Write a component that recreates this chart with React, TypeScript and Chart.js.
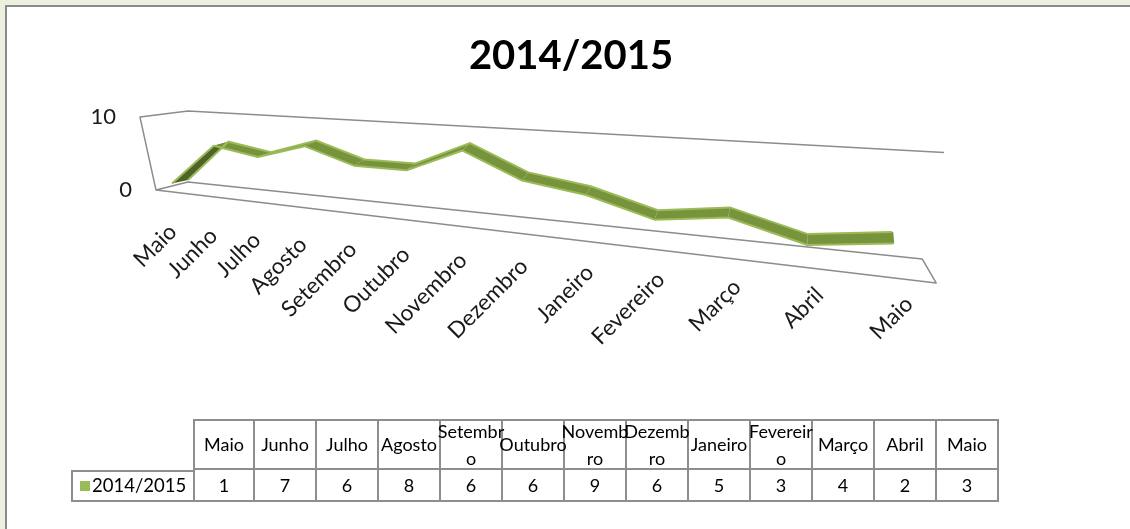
import React, { useEffect, useRef } from "react";
import { Chart, registerables } from "chart.js";

Chart.register(...registerables);

// ---- data ----
const categories = [
  "Maio", "Junho", "Julho", "Agosto", "Setembro", "Outubro", "Novembro",
  "Dezembro", "Janeiro", "Fevereiro", "Março", "Abril", "Maio",
];
const seriesLabel = "2014/2015";
const seriesValues = [1, 7, 6, 8, 6, 6, 9, 6, 5, 3, 4, 2, 3];
const yTickValues = [0, 10];
const chartTitle = "2014/2015";

// ---- styles ----
const GREEN = "#9bbb59";
const FACE = "#77933c";
const DARK = "#4f6228";
const FRAME = "#8c8c8c";
const TEXT = "#1a1a1a";

// perspective projection of normalized plot coordinates (u along categories, w along value)
function project(u: number, w: number) {
  const den = 1 - 0.332 * u;
  return { x: (408 * u + 188) / den, y: (-11.2 * u - 68.9 * w + 186.9) / den };
}
function depth(u: number) {
  return { x: -16 + 17 * u, y: 3.5 + 8 * u };
}

const perspectivePlugin = {
  id: "perspective3d",
  afterDatasetsUpdate(chart: any) {
    const a = chart.chartArea;
    const meta = chart.getDatasetMeta(0);
    const us: number[] = [];
    meta.data.forEach((pt: any) => {
      const u = (pt.x - a.left) / (a.right - a.left);
      const w = (a.bottom - pt.y) / (a.bottom - a.top);
      const p = project(u, w);
      pt.x = p.x;
      pt.y = p.y;
      us.push(u);
    });
    chart.$us = us;
  },
  beforeDatasetsDraw(chart: any) {
    const ctx = chart.ctx as CanvasRenderingContext2D;
    const yScale = chart.scales.y;
    const wTop = (yScale.max * 1.1 - yScale.min) / (yScale.max - yScale.min);
    const wBot = 0.07;
    const bTL = project(0, wTop);
    const bTR = project(1.048, wTop);
    const bBL = project(0, wBot);
    const bBR = project(1.028, wBot);
    const fTL = { x: bTL.x - 48, y: bTL.y + 6 };
    const fBL = { x: bBL.x - 32, y: bBL.y + 8 };
    const fBR = { x: bBR.x + 14, y: bBR.y + 24 };
    ctx.save();
    ctx.strokeStyle = FRAME;
    ctx.lineWidth = 1.5;
    ctx.lineJoin = "round";
    ctx.beginPath();
    ctx.moveTo(bTR.x, bTR.y);
    ctx.lineTo(bTL.x, bTL.y);
    ctx.lineTo(fTL.x, fTL.y);
    ctx.lineTo(fBL.x, fBL.y);
    ctx.lineTo(fBR.x, fBR.y);
    ctx.lineTo(bBR.x, bBR.y);
    ctx.lineTo(bBL.x, bBL.y);
    ctx.lineTo(fBL.x, fBL.y);
    ctx.stroke();

    // y labels along the front-left edge
    ctx.font = "22px Lato, sans-serif";
    ctx.fillStyle = TEXT;
    ctx.textAlign = "right";
    ctx.textBaseline = "middle";
    yTickValues.forEach((v) => {
      const t = (v - yScale.min) / (yScale.max - yScale.min);
      const x = fBL.x + (fTL.x - fBL.x) * t - 24;
      const y = fBL.y + (fTL.y - fBL.y) * t;
      ctx.fillText(String(v), x, y);
    });

    // ribbon faces
    const pts = chart.getDatasetMeta(0).data;
    const us: number[] = chart.$us || [];
    for (let i = 0; i < pts.length - 1; i++) {
      const p0 = pts[i], p1 = pts[i + 1];
      const d0 = depth(us[i]), d1 = depth(us[i + 1]);
      const sx = p1.x - p0.x, sy = p1.y - p0.y;
      const dx = (d0.x + d1.x) / 2, dy = (d0.y + d1.y) / 2;
      const cross = sx * dy - sy * dx;
      ctx.fillStyle = cross >= 0 ? FACE : DARK;
      ctx.beginPath();
      ctx.moveTo(p0.x, p0.y);
      ctx.lineTo(p1.x, p1.y);
      ctx.lineTo(p1.x + d1.x, p1.y + d1.y);
      ctx.lineTo(p0.x + d0.x, p0.y + d0.y);
      ctx.closePath();
      ctx.fill();
    }
    // end cap
    const last = pts[pts.length - 1];
    if (last) {
      const d = depth(us[pts.length - 1]);
      ctx.strokeStyle = FACE;
      ctx.lineWidth = 2;
      ctx.beginPath();
      ctx.moveTo(last.x, last.y);
      ctx.lineTo(last.x + d.x, last.y + d.y);
      ctx.stroke();
    }
    ctx.restore();
  },
  afterDatasetsDraw(chart: any) {
    const ctx = chart.ctx as CanvasRenderingContext2D;
    const pts = chart.getDatasetMeta(0).data;
    const us: number[] = chart.$us || [];
    ctx.save();
    ctx.strokeStyle = GREEN;
    ctx.lineWidth = 2;
    ctx.lineJoin = "round";
    ctx.beginPath();
    pts.forEach((p: any, i: number) => {
      const d = depth(us[i]);
      if (i === 0) ctx.moveTo(p.x + d.x, p.y + d.y);
      else ctx.lineTo(p.x + d.x, p.y + d.y);
    });
    ctx.stroke();
    ctx.restore();
  },
  afterDraw(chart: any) {
    const ctx = chart.ctx as CanvasRenderingContext2D;
    const a = chart.chartArea;
    const xs = chart.scales.x;
    ctx.save();
    ctx.font = "22.5px Lato, sans-serif";
    ctx.fillStyle = TEXT;
    ctx.textAlign = "right";
    ctx.textBaseline = "middle";
    xs.getLabels().forEach((lab: string, i: number) => {
      const px = xs.getPixelForValue(i);
      const u = (px - a.left) / (a.right - a.left);
      const P = project(u, 0);
      const ax = P.x - 15 + 32 * u * u;
      const ay = 228 + 0.098 * (ax - 172);
      ctx.save();
      ctx.translate(ax, ay);
      ctx.rotate(-Math.PI / 4);
      ctx.fillText(lab, 0, 0);
      ctx.restore();
    });
    ctx.restore();
  },
};

function ChartCanvas() {
  const ref = useRef<HTMLCanvasElement | null>(null);
  useEffect(() => {
    if (!ref.current) return;
    const chart = new Chart(ref.current, {
      type: "line",
      data: {
        labels: categories,
        datasets: [
          {
            label: seriesLabel,
            data: seriesValues,
            borderColor: GREEN,
            borderWidth: 2,
            pointRadius: 0,
            tension: 0,
            clip: false as any,
          },
        ],
      },
      options: {
        responsive: false,
        devicePixelRatio: 1,
        animation: false,
        events: [],
        layout: { padding: { left: 12 } },
        scales: {
          x: { display: false, offset: false },
          y: { display: false, min: 0, max: 10, ticks: { stepSize: 10 } },
        },
        plugins: {
          legend: { display: false },
          tooltip: { enabled: false },
          title: {
            display: true,
            text: chartTitle,
            color: "#000",
            font: { family: "Lato, sans-serif", size: 40, weight: "bold" },
            padding: { top: 32, bottom: 10 },
          },
        },
      },
      plugins: [perspectivePlugin],
    });
    return () => chart.destroy();
  }, []);
  return (
    <canvas
      ref={ref}
      width={1130}
      height={529}
      style={{ position: "absolute", left: 0, top: 0, width: 1130, height: 529 }}
    />
  );
}

const border = "2px solid #8e8e8e";

function DataTable() {
  const base: React.CSSProperties = {
    boxSizing: "border-box",
    display: "flex",
    alignItems: "center",
    justifyContent: "center",
    textAlign: "center",
    lineHeight: 1.5,
  };
  return (
    <div
      style={{
        position: "absolute",
        left: 71,
        top: 419,
        display: "grid",
        gridTemplateColumns: "122px repeat(13, 62px)",
        gridTemplateRows: "51px 32px",
        fontFamily: "Lato, sans-serif",
        fontSize: 18,
        color: "#000",
      }}
    >
      <div />
      {categories.map((c, i) => (
        <div
          key={"h" + i}
          style={{
            ...base,
            borderTop: border,
            borderRight: border,
            borderBottom: border,
            borderLeft: i === 0 ? border : undefined,
          }}
        >
          <span
            style={{
              flex: "0 0 70px",
              width: 70,
              overflowWrap: "anywhere",
              lineHeight: 1.45,
              textAlign: "center",
            }}
          >
            {c}
          </span>
        </div>
      ))}
      <div
        style={{
          ...base,
          justifyContent: "flex-start",
          border: border,
          borderRight: "none",
          paddingLeft: 7,
          fontSize: 18.5,
        }}
      >
        <span
          style={{ display: "inline-block", width: 10, height: 10, background: GREEN, marginRight: 2 }}
        />
        <span>{seriesLabel}</span>
      </div>
      {seriesValues.map((v, i) => (
        <div
          key={"v" + i}
          style={{ ...base, borderRight: border, borderBottom: border, borderLeft: i === 0 ? border : undefined }}
        >
          {v}
        </div>
      ))}
    </div>
  );
}

export default function App() {
  return (
    <div style={{ position: "absolute", left: 0, top: 0, width: 1130, height: 529, background: "#ebf1de", overflow: "hidden" }}>
      <div
        style={{
          position: "absolute",
          left: 5,
          top: 5,
          right: 0,
          bottom: 0,
          background: "#fff",
          borderTop: "2px solid #8a8a8a",
          borderLeft: "2px solid #8a8a8a",
        }}
      />
      <ChartCanvas />
      <DataTable />
    </div>
  );
}
